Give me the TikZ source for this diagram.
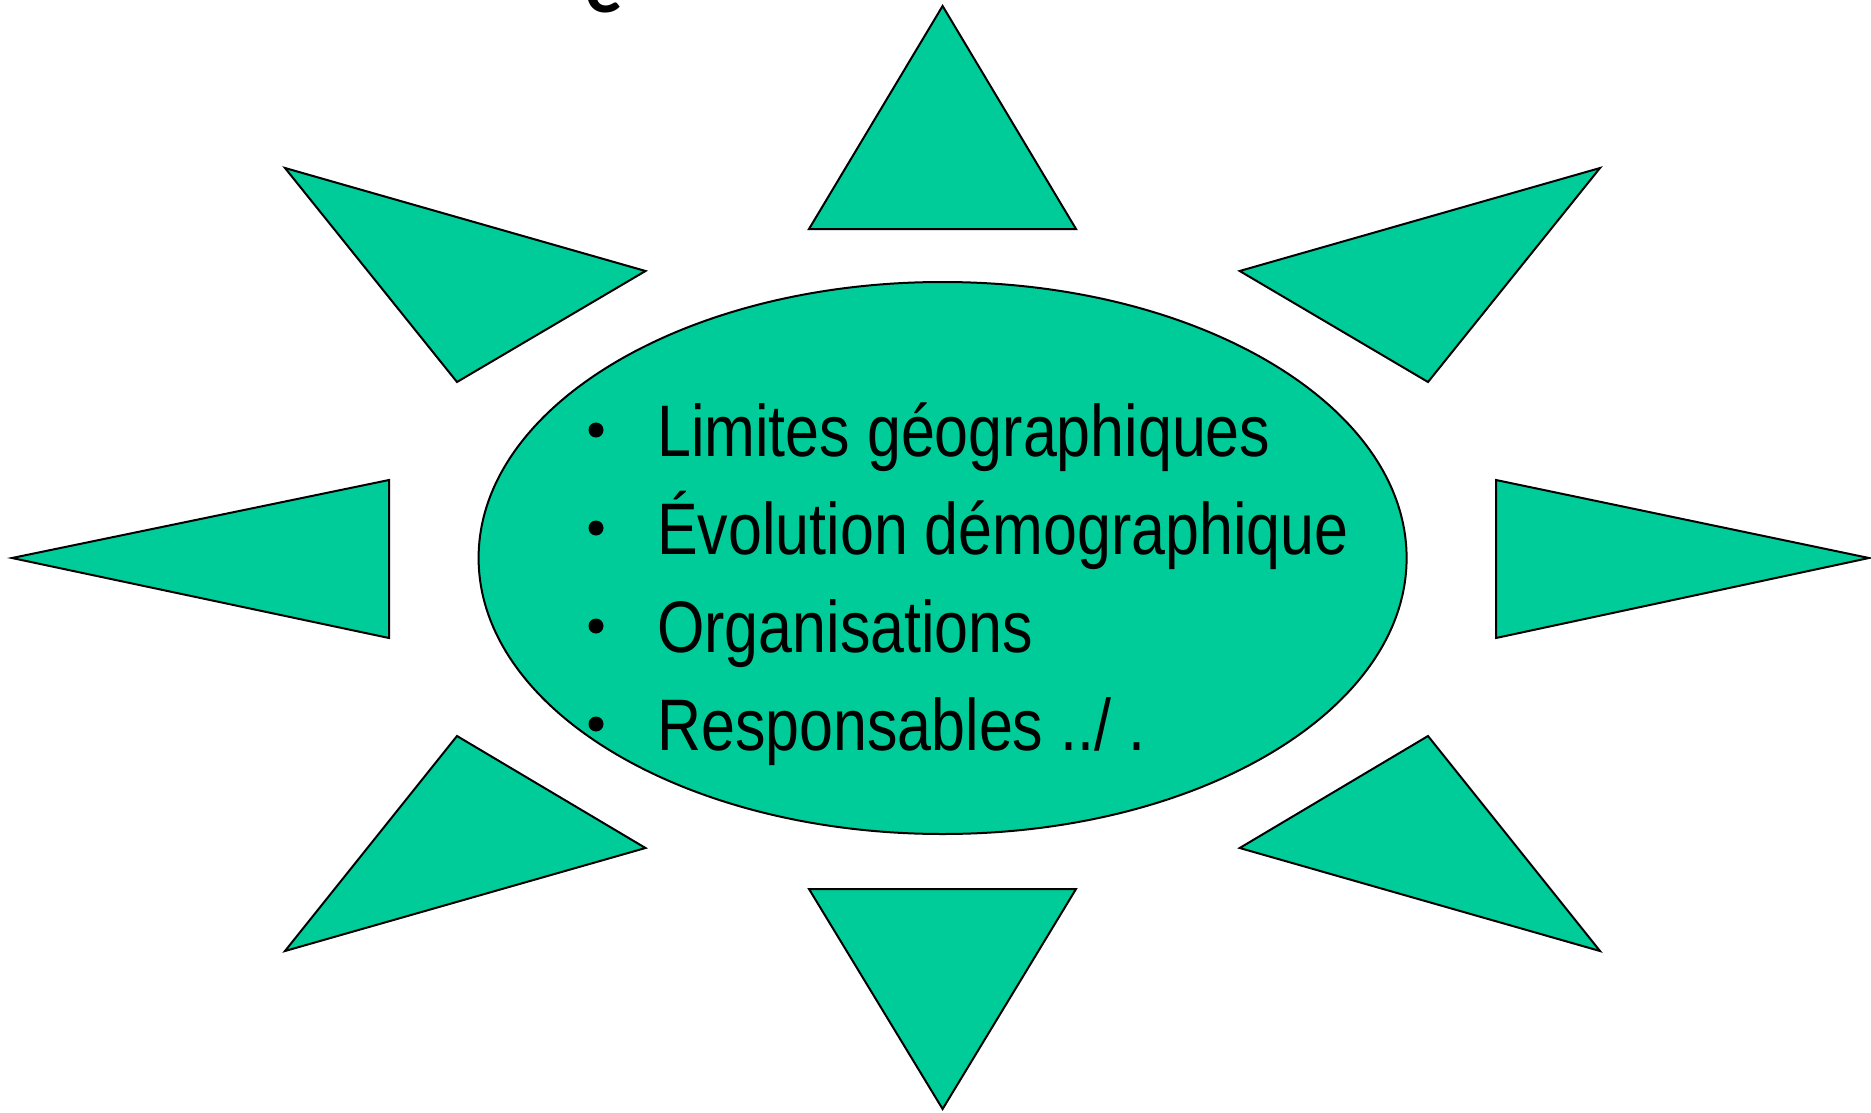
\documentclass[tikz,border=0pt]{standalone}
\usepackage{fontspec}
\setmainfont{Liberation Sans}[FakeStretch=0.835]
\newfontfamily\titlefont{Carlito}[BoldFont=Carlito Bold]
\definecolor{sungreen}{HTML}{00CC99}
\begin{document}
\begin{tikzpicture}[x=1pt,y=-1pt,
  ray/.style={fill=sungreen,draw=black,line width=2pt,line join=miter},
  item/.style={anchor=base west,inner sep=0pt,font=\fontsize{73}{73}\selectfont},
  dot/.style={circle,fill=black,inner sep=0pt,minimum size=15pt}]
\useasboundingbox (0,0) rectangle (1871,1113);
\clip (0,0) rectangle (1871,1113);
\node[anchor=base,inner sep=0pt,font=\titlefont\bfseries\fontsize{74}{74}\selectfont] (title) at (604,13) {e};
% rays
\draw[ray] (942.6,6) -- (1076,229) -- (809,229) -- cycle;
\draw[ray] (942.6,1109) -- (1076,889) -- (809,889) -- cycle;
\draw[ray] (285,168) -- (645.5,271) -- (457,382) -- cycle;
\draw[ray] (1600,168) -- (1239.7,271) -- (1428,382) -- cycle;
\draw[ray] (12,558) -- (389,480) -- (389,638) -- cycle;
\draw[ray] (1869,558) -- (1496,480) -- (1496,638) -- cycle;
\draw[ray] (285,951) -- (645.5,848) -- (457,736) -- cycle;
\draw[ray] (1600,951) -- (1239.7,848) -- (1428,736) -- cycle;
% centre
\draw[ray] (942.6,558) ellipse [x radius=464, y radius=276];
\node[coordinate] (centre) at (942.6,558) {};
\node[item] (l1) at (657,456) {Limites géographiques};
\node[item] (l2) at (657,554) {Évolution démographique};
\node[item] (l3) at (657,652) {Organisations};
\node[item] (l4) at (657,750) {Responsables ../ .};
\node[dot] (b1) at (596,430) {};
\node[dot] (b2) at (596,528) {};
\node[dot] (b3) at (596,626) {};
\node[dot] (b4) at (596,724) {};
\end{tikzpicture}
\end{document}
